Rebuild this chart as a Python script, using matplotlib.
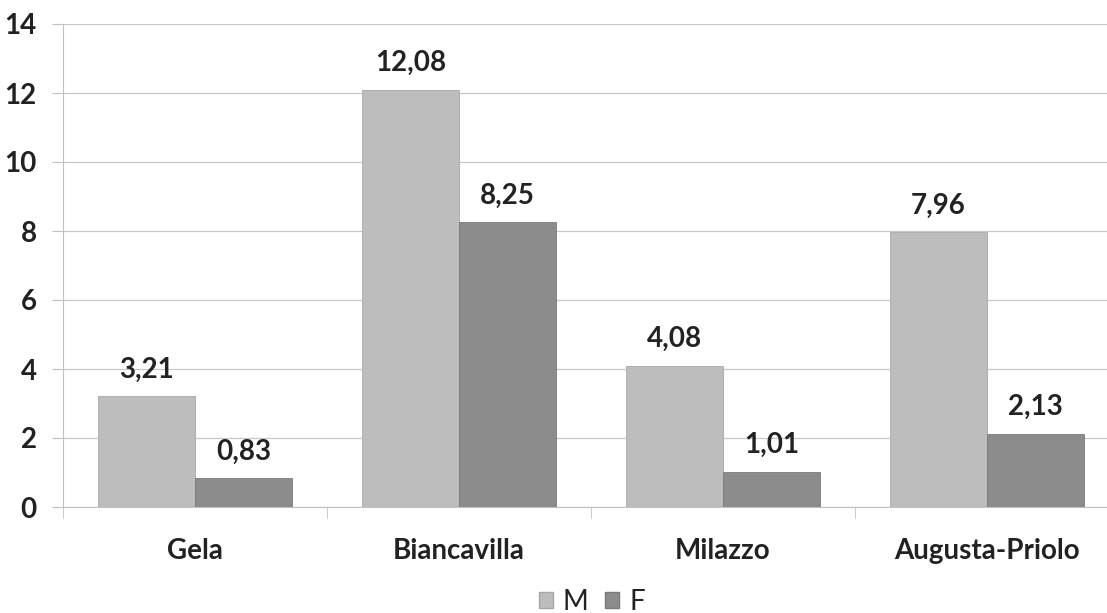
import matplotlib
matplotlib.use("Agg")
import matplotlib.pyplot as plt
import numpy as np
from matplotlib.patches import Patch

categories = ["Gela", "Biancavilla", "Milazzo", "Augusta-Priolo"]
m_values = [3.21, 12.08, 4.08, 7.96]
f_values = [0.83, 8.25, 1.01, 2.13]
series_names = ["M", "F"]
yticks = [0, 2, 4, 6, 8, 10, 12, 14]

plt.rcParams['font.family'] = ['Lato', 'DejaVu Sans']
W, H = 1107, 613
fig = plt.figure(figsize=(W/100, H/100), dpi=100)
left, right = 63, 1119
top, bottom = 24, 507
ax = fig.add_axes([left/W, 1-bottom/H, (right-left)/W, (bottom-top)/H])

x = np.arange(len(categories))
bw = 0.367
c_m = "#bdbdbd"
c_f = "#8c8c8c"
txt = "#222222"
FS = 20
bm = ax.bar(x - bw/2, m_values, bw, color=c_m, edgecolor="#a8a8a8", linewidth=0.6, zorder=3)
bf = ax.bar(x + bw/2, f_values, bw, color=c_f, edgecolor="#7a7a7a", linewidth=0.6, zorder=3)

for rect, v in list(zip(bm, m_values)) + list(zip(bf, f_values)):
    ax.annotate(f"{v:.2f}".replace(".", ","), (rect.get_x()+rect.get_width()/2, v),
                xytext=(0, 10), textcoords="offset points", ha="center", va="bottom",
                fontsize=FS, fontweight="bold", color=txt)

ax.set_xlim(-0.5, len(categories)-0.5)
ax.set_ylim(0, 14)
ax.set_yticks(yticks)
ax.set_yticklabels([str(t) for t in yticks], fontsize=FS, fontweight="bold", color=txt)
ax.set_xticks(x)
ax.set_xticklabels(categories, fontsize=FS, fontweight="bold", color=txt)
ax.tick_params(axis="x", length=0, pad=22)
ax.tick_params(axis="y", length=8, color="#c0c0c0", pad=11)
ax.set_xticks(np.arange(len(categories)+1)-0.5, minor=True)
ax.tick_params(axis="x", which="minor", length=8, color="#c0c0c0")
ax.grid(axis="y", color="#c8c8c8", linewidth=0.9, zorder=0)
for s in ["top", "right"]:
    ax.spines[s].set_visible(False)
ax.spines["left"].set_color("#c0c0c0")
ax.spines["bottom"].set_color("#c0c0c0")

handles = [Patch(facecolor=c_m, edgecolor="#a8a8a8"), Patch(facecolor=c_f, edgecolor="#7a7a7a")]
fig.legend(handles, series_names, loc="center", bbox_to_anchor=(592/W, 1-602/H), ncol=2,
           frameon=False, fontsize=FS, handlelength=0.5, handleheight=0.5,
           handletextpad=0.35, columnspacing=0.6, labelcolor=txt)

fig.savefig("out.png", dpi=100)
